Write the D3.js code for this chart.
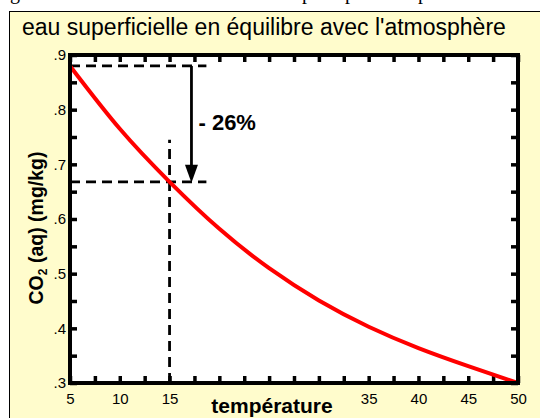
<!DOCTYPE html>
<html>
<head>
<meta charset="utf-8">
<script src="https://cdn.jsdelivr.net/npm/d3@7"></script>
<style>
  body { margin: 0; background: #fff; }
  text { font-family: "Liberation Sans", Arial, sans-serif; }
</style>
</head>
<body>
<script>
const width = 540;
const height = 418;
const marginTop = 55;
const marginRight = 22;
const marginBottom = 35;
const marginLeft = 70;

// data
const temperature = [5, 10, 15, 20, 25, 30, 35, 40, 45, 50];
const co2 = [0.88, 0.765, 0.668, 0.582, 0.51, 0.451, 0.403, 0.364, 0.331, 0.30];
const xTicks = d3.range(5, 50.01, 2.5);
const xLabels = [5, 10, 15, 35, 40, 45, 50];
const yTicks = d3.range(0.3, 0.901, 0.05);
const yLabels = [0.3, 0.4, 0.5, 0.6, 0.7, 0.8, 0.9];
const refTemp = 15;
const arrowTemp = 17.2;
const dashEnd = 18.7;
const vTop = 0.745;

const data = temperature.map((t, i) => [t, co2[i]]);

const svg = d3.select("body").append("svg")
  .attr("width", width)
  .attr("height", height)
  .attr("viewBox", [0, 0, width, height]);

// cut-off line of text above the panel
svg.append("text")
  .attr("y", -1.5)
  .style("font-family", "'Liberation Serif', serif")
  .style("font-size", "20px")
  .selectAll("tspan")
  .data([[10, "g"], [302, "p"], [345, "p"], [418, "p"]])
  .join("tspan")
  .attr("x", d => d[0])
  .text(d => d[1]);

// yellow panel
svg.append("rect")
  .attr("x", 9.5).attr("y", 11.5)
  .attr("width", 560).attr("height", 450)
  .attr("fill", "#fffccc")
  .attr("stroke", "#000")
  .attr("stroke-width", 1);

svg.append("text")
  .text("eau superficielle en équilibre avec l'atmosphère")
  .attr("x", 22).attr("y", 35)
  .style("font-size", "23px");

const x = d3.scaleLinear()
  .domain([5, 50])
  .range([marginLeft, width - marginRight]);

const y = d3.scaleLinear()
  .domain([0.3, 0.9])
  .range([height - marginBottom, marginTop]);

svg.append("rect")
  .attr("x", marginLeft).attr("y", marginTop)
  .attr("width", x(50) - x(5)).attr("height", y(0.3) - y(0.9))
  .attr("fill", "#fff");

const fmtY = d => yLabels.some(v => Math.abs(v - d) < 1e-6) ? d3.format(".1f")(d).replace(/^0/, "") : "";
const fmtX = d => xLabels.includes(d) ? d : "";

function styleAxis(g) {
  g.select(".domain").remove();
  g.selectAll(".tick line").attr("stroke", "#000").attr("stroke-width", 3.5);
  g.selectAll(".tick text").attr("fill", "#000").style("font-family", "'Liberation Sans', Arial, sans-serif");
}

svg.append("g")
  .attr("transform", `translate(0,${y(0.3)})`)
  .call(d3.axisBottom(x).tickValues(xTicks).tickSize(-7).tickPadding(10).tickFormat(fmtX))
  .call(styleAxis)
  .call(g => g.selectAll(".tick text").style("font-size", "15px"));

svg.append("g")
  .attr("transform", `translate(0,${y(0.9)})`)
  .call(d3.axisTop(x).tickValues(xTicks).tickSize(-7).tickFormat(""))
  .call(styleAxis);

svg.append("g")
  .attr("transform", `translate(${x(5)},0)`)
  .call(d3.axisLeft(y).tickValues(yTicks).tickSize(-7).tickPadding(4).tickFormat(fmtY))
  .call(styleAxis)
  .call(g => g.selectAll(".tick text").style("font-size", "15px"));

svg.append("g")
  .attr("transform", `translate(${x(50)},0)`)
  .call(d3.axisRight(y).tickValues(yTicks).tickSize(-7).tickFormat(""))
  .call(styleAxis);

// dashed guide lines
const dashed = svg.append("g")
  .attr("stroke", "#000")
  .attr("stroke-width", 2.8)
  .attr("stroke-dasharray", "10,6")
  .attr("fill", "none");

dashed.append("line")
  .attr("x1", x(5)).attr("x2", x(dashEnd))
  .attr("y1", y(co2[0])).attr("y2", y(co2[0]));
dashed.append("line")
  .attr("x1", x(5)).attr("x2", x(dashEnd))
  .attr("y1", y(co2[2])).attr("y2", y(co2[2]));
dashed.append("line")
  .attr("x1", x(refTemp)).attr("x2", x(refTemp))
  .attr("y1", y(0.3)).attr("y2", y(vTop));

// arrow
svg.append("line")
  .attr("x1", x(arrowTemp)).attr("x2", x(arrowTemp))
  .attr("y1", y(co2[0])).attr("y2", y(co2[2]) - 12)
  .attr("stroke", "#000").attr("stroke-width", 2.8);
svg.append("path")
  .attr("d", `M${x(arrowTemp) - 6.5},${y(co2[2]) - 17}L${x(arrowTemp) + 6.5},${y(co2[2]) - 17}L${x(arrowTemp)},${y(co2[2]) + 1}Z`)
  .attr("fill", "#000");

svg.append("text")
  .text("- 26%")
  .attr("x", x(arrowTemp) + 7).attr("y", 130)
  .style("font-size", "22px")
  .style("font-weight", "bold");

// curve
svg.append("path")
  .datum(data)
  .attr("fill", "none")
  .attr("stroke", "#ff0000")
  .attr("stroke-width", 4)
  .attr("d", d3.line().x(d => x(d[0])).y(d => y(d[1])).curve(d3.curveNatural));

// frame
svg.append("rect")
  .attr("x", marginLeft).attr("y", marginTop)
  .attr("width", x(50) - x(5)).attr("height", y(0.3) - y(0.9))
  .attr("fill", "none")
  .attr("stroke", "#000")
  .attr("stroke-width", 4);

// axis titles
svg.append("text")
  .text("température")
  .attr("x", 272).attr("y", 413)
  .attr("text-anchor", "middle")
  .style("font-size", "21px")
  .style("font-weight", "bold");

const yTitle = svg.append("text")
  .attr("transform", "translate(43,228) rotate(-90)")
  .attr("text-anchor", "middle")
  .style("font-size", "19.5px")
  .style("font-weight", "bold");
yTitle.append("tspan").text("CO");
yTitle.append("tspan").text("2").attr("dy", 4).style("font-size", "12px");
yTitle.append("tspan").text(" (aq) (mg/kg)").attr("dy", -4);
</script>
</body>
</html>
